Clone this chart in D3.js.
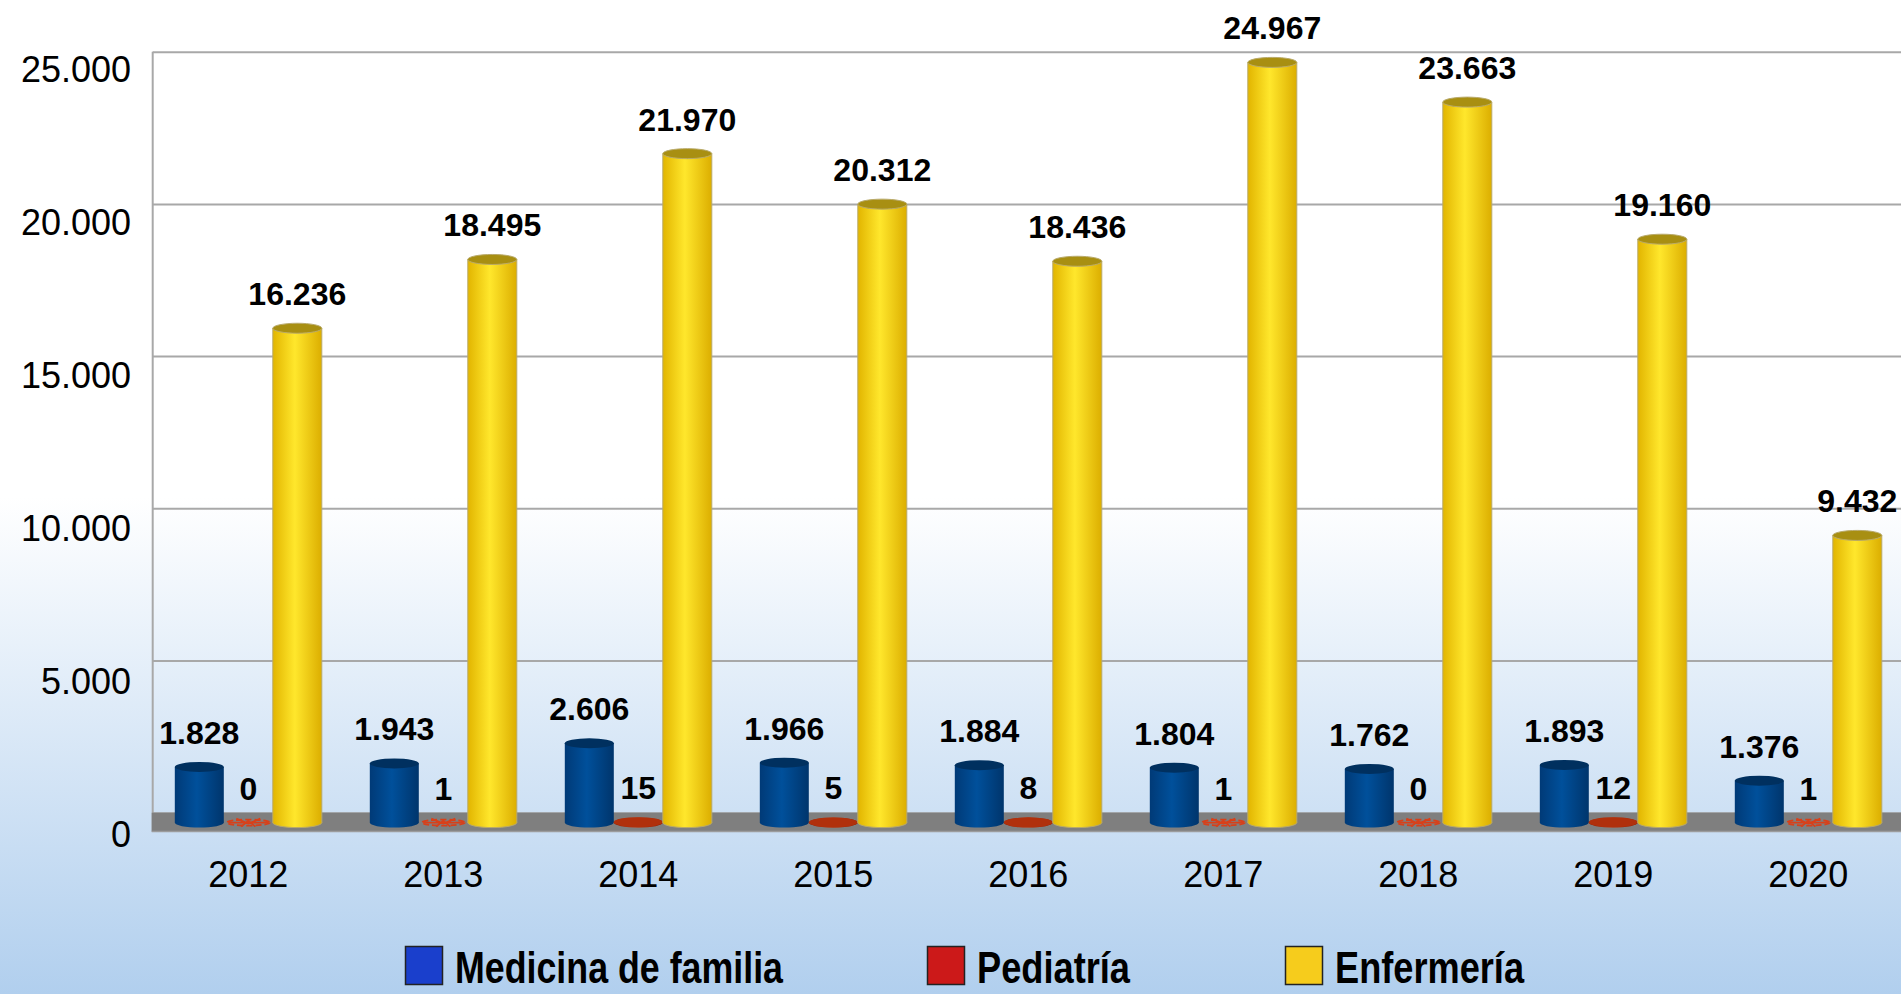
<!DOCTYPE html>
<html>
<head>
<meta charset="utf-8">
<script src="https://cdn.jsdelivr.net/npm/d3@7"></script>
<style>
  html, body { margin: 0; padding: 0; overflow: hidden; }
  text { font-family: "Liberation Sans", Arial, sans-serif; }
</style>
</head>
<body>
<div class="chart"></div>
<script>
// chart data
var years = ["2012", "2013", "2014", "2015", "2016", "2017", "2018", "2019", "2020"];
var medicina = [1828, 1943, 2606, 1966, 1884, 1804, 1762, 1893, 1376];
var pediatria = [0, 1, 15, 5, 8, 1, 0, 12, 1];
var enfermeria = [16236, 18495, 21970, 20312, 18436, 24967, 23663, 19160, 9432];
var seriesNames = ["Medicina de familia", "Pediatría", "Enfermería"];
var yTicks = [0, 5000, 10000, 15000, 20000, 25000];

var svgWidth = 1901;
var svgHeight = 994;

// plot box (back wall)
var wallLeft = 152.7;
var wallTop = 51.7;
var wallBottom = 812.7;
var floorBottom = 831.5;

var fmt = d3.formatLocale({ decimal: ",", thousands: ".", grouping: [3], currency: ["", ""] }).format(",d");

var svg = d3.select(".chart")
  .append("svg")
  .attr("width", svgWidth)
  .attr("height", svgHeight);

var defs = svg.append("defs");

// page background gradient
var bg = defs.append("linearGradient")
  .attr("id", "bg")
  .attr("x1", 0).attr("y1", 0).attr("x2", 0).attr("y2", 1);
bg.append("stop").attr("offset", "0%").attr("stop-color", "#ffffff");
bg.append("stop").attr("offset", "50%").attr("stop-color", "#ffffff");
bg.append("stop").attr("offset", "100%").attr("stop-color", "#b1cfee");

// cylinder body gradients
function bodyGradient(id, c0, c1, c2) {
  var g = defs.append("linearGradient")
    .attr("id", id)
    .attr("x1", 0).attr("y1", 0).attr("x2", 1).attr("y2", 0);
  g.append("stop").attr("offset", "0%").attr("stop-color", c0);
  g.append("stop").attr("offset", "45%").attr("stop-color", c1);
  g.append("stop").attr("offset", "100%").attr("stop-color", c2);
}
bodyGradient("gBlue", "#003a77", "#00509b", "#00356c");
bodyGradient("gRed", "#8c1c02", "#c43a12", "#8a1a00");
bodyGradient("gYellow", "#e2b500", "#ffe72c", "#dcae00");

var styles = [
  { body: "url(#gBlue)", top: "#00305f", edge: "none", legend: "#1a3fcc" },
  { body: "url(#gRed)", top: "#b0300c", edge: "none", legend: "#cc1919" },
  { body: "url(#gYellow)", top: "#a88f12", edge: "#b9aa6a", legend: "#f6cc1c" }
];

svg.append("rect")
  .attr("width", svgWidth)
  .attr("height", svgHeight)
  .attr("fill", "url(#bg)");

// scales
var x0 = d3.scaleBand()
  .domain(years)
  .range([wallLeft - 1.9, wallLeft - 1.9 + 9 * 195]);

var x1 = d3.scaleBand()
  .domain(seriesNames)
  .range([-73.5, 73.5]);

// gridlines on the back wall
var yGrid = d3.scaleLinear().domain([0, 25000]).range([wallBottom, wallTop]);
// bars stand a bit in front of the wall
var yBar = d3.scaleLinear().domain([0, 25000]).range([822.6, 61.4]);
// tick label baselines
var yLabel = d3.scaleLinear().domain([0, 25000]).range([846, 81.7]);

var grid = svg.append("g")
  .attr("transform", `translate(${wallLeft}, 0)`)
  .call(d3.axisLeft(yGrid).tickValues(yTicks).tickSize(-(svgWidth - wallLeft)).tickFormat(""));
grid.select(".domain").remove();
grid.selectAll("line")
  .attr("stroke", "#a8a8a8")
  .attr("stroke-width", 2);

// left wall edge
svg.append("line")
  .attr("x1", wallLeft).attr("x2", wallLeft)
  .attr("y1", wallTop).attr("y2", floorBottom)
  .attr("stroke", "#a8a8a8")
  .attr("stroke-width", 2);

// floor slab
svg.append("rect")
  .attr("x", wallLeft - 1)
  .attr("y", wallBottom)
  .attr("width", svgWidth - wallLeft + 1)
  .attr("height", floorBottom - wallBottom)
  .attr("fill", "#7f7f7f");
svg.append("line")
  .attr("x1", wallLeft - 1).attr("x2", svgWidth)
  .attr("y1", floorBottom).attr("y2", floorBottom)
  .attr("stroke", "#9c9c9c")
  .attr("stroke-width", 1.5);

// build rows for bars
var rows = [];
years.forEach(function (yr, i) {
  [medicina[i], pediatria[i], enfermeria[i]].forEach(function (v, s) {
    rows.push({ year: yr, series: s, value: v });
  });
});

var rx = 24.5;
var ry = 5;

var bars = svg.append("g")
  .selectAll("g")
  .data(rows)
  .enter()
  .append("g")
  .attr("transform", d => `translate(${x0(d.year) + x0.bandwidth() / 2 + x1(seriesNames[d.series]) + x1.bandwidth() / 2}, 0)`);

bars.each(function (d) {
  var g = d3.select(this);
  var base = yBar(0);
  var top = yBar(d.value);
  var st = styles[d.series];

  if (base - top < 0.1) {
    // almost flat bar: renders as a broken red star on the floor
    g.append("ellipse")
      .attr("cx", 0).attr("cy", base)
      .attr("rx", rx - 3).attr("ry", 3)
      .attr("fill", "none")
      .attr("stroke", "#d8401a")
      .attr("stroke-width", 1.8)
      .attr("stroke-dasharray", "6 3");
    g.append("path")
      .attr("d", `M-12,${base - 4} L0,${base + 1} L12,${base - 4} M-7,${base + 4} L0,${base - 2} L7,${base + 4} M-20,${base} L20,${base}`)
      .attr("stroke", "#d8401a")
      .attr("stroke-width", 1.8)
      .attr("fill", "none");
    return;
  }

  g.append("ellipse")
    .attr("cx", 0).attr("cy", base)
    .attr("rx", rx).attr("ry", ry)
    .attr("fill", st.body)
    .attr("stroke", st.edge)
    .attr("stroke-width", 1);
  g.append("rect")
    .attr("x", -rx)
    .attr("y", top)
    .attr("width", rx * 2)
    .attr("height", base - top)
    .attr("fill", st.body);
  if (st.edge !== "none") {
    g.append("path")
      .attr("d", `M${-rx},${top} L${-rx},${base} M${rx},${top} L${rx},${base}`)
      .attr("stroke", st.edge)
      .attr("stroke-width", 1);
  }
  g.append("ellipse")
    .attr("cx", 0).attr("cy", top)
    .attr("rx", rx).attr("ry", ry)
    .attr("fill", st.top)
    .attr("stroke", st.edge)
    .attr("stroke-width", 1);
});

// value labels
bars.append("text")
  .attr("x", 0)
  .attr("y", d => yBar(d.value) - 23)
  .attr("text-anchor", "middle")
  .style("font-size", "32px")
  .style("font-weight", "bold")
  .attr("fill", "#000")
  .text(d => fmt(d.value));

// y axis labels
var yAxis = svg.append("g")
  .attr("transform", "translate(131, 0)")
  .call(d3.axisLeft(yLabel).tickValues(yTicks).tickSize(0).tickPadding(0).tickFormat(fmt));
yAxis.select(".domain").remove();
yAxis.selectAll("text")
  .attr("dy", 0)
  .attr("fill", "#000")
  .style("font-family", "'Liberation Sans', Arial, sans-serif")
  .style("font-size", "36px");

// x axis labels
var xAxis = svg.append("g")
  .attr("transform", "translate(0, 887)")
  .call(d3.axisBottom(x0).tickSize(0));
xAxis.select(".domain").remove();
xAxis.selectAll("text")
  .attr("y", 0)
  .attr("dy", 0)
  .attr("fill", "#000")
  .style("font-family", "'Liberation Sans', Arial, sans-serif")
  .style("font-size", "36px");

// legend
var legendX = [405, 927, 1285];
var legendW = [328, 153, 189];
var legend = svg.append("g")
  .selectAll("g")
  .data(seriesNames)
  .enter()
  .append("g")
  .attr("transform", (d, i) => `translate(${legendX[i]}, 946)`);

legend.append("rect")
  .attr("x", 0.5)
  .attr("y", 0.5)
  .attr("width", 37)
  .attr("height", 38)
  .attr("fill", (d, i) => styles[i].legend)
  .attr("stroke", "#222")
  .attr("stroke-width", 1.5);

legend.append("text")
  .attr("x", 50)
  .attr("y", 37)
  .attr("textLength", (d, i) => legendW[i])
  .attr("lengthAdjust", "spacingAndGlyphs")
  .style("font-size", "44px")
  .style("font-weight", "bold")
  .attr("fill", "#000")
  .text(d => d);
</script>
</body>
</html>
